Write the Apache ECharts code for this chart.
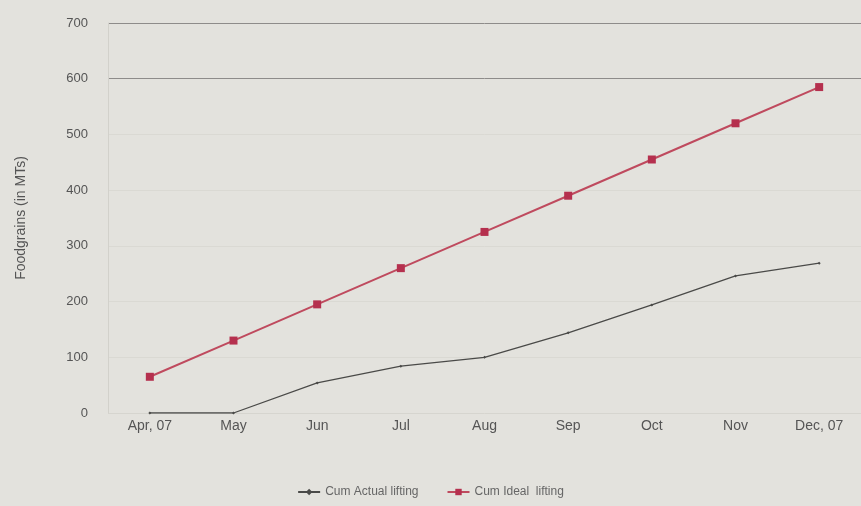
<!DOCTYPE html>
<html lang="en">
<head>
    <meta charset="UTF-8">
    <title>Foodgrains lifting</title>
    <script src="https://cdn.jsdelivr.net/npm/echarts@6/dist/echarts.min.js"></script>
    <style>
        html, body { margin: 0; padding: 0; background: #e3e2dd; }
        #chart-container { width: 861px; height: 506px; }
    </style>
</head>
<body>
    <div id="chart-container"></div>
    <script>
        var months = ['Apr, 07', 'May', 'Jun', 'Jul', 'Aug', 'Sep', 'Oct', 'Nov', 'Dec, 07'];
        var actualLifting = [0, 0, 54, 84, 100, 144, 194, 246, 269];
        var idealLifting = [65, 130, 195, 260, 325, 390, 455, 520, 585];

        var myChart = echarts.init(document.getElementById('chart-container'));
        var option = {
            backgroundColor: '#e3e2dd',
            textStyle: { fontFamily: 'Liberation Sans, Arial, sans-serif' },
            legend: {
                bottom: 3,
                left: 'center',
                itemWidth: 22,
                itemHeight: 8,
                itemGap: 28,
                textStyle: { color: '#666', fontSize: 12 },
                data: ['Cum Actual lifting', 'Cum Ideal  lifting']
            },
            grid: { left: 108, top: 23, width: 760, height: 390 },
            xAxis: {
                type: 'category',
                data: months,
                boundaryGap: true,
                axisLine: { show: false },
                axisTick: { show: false },
                axisLabel: { color: '#555', fontSize: 14, margin: 6 }
            },
            yAxis: {
                type: 'value',
                min: 0,
                max: 700,
                interval: 100,
                name: 'Foodgrains (in MTs)',
                nameLocation: 'middle',
                nameGap: 80,
                nameTextStyle: { color: '#555', fontSize: 14 },
                axisLine: { show: true, lineStyle: { color: '#d2d1cb' } },
                axisTick: { show: false },
                axisLabel: { color: '#555', fontSize: 13, margin: 20 },
                splitLine: {
                    lineStyle: {
                        color: ['#d6d5cf', '#dad9d3', '#dad9d3', '#dad9d3', '#dad9d3', '#dad9d3', '#8e8c8a', '#8e8c8a'],
                        width: 1
                    }
                }
            },
            series: [
                {
                    name: 'Cum Actual lifting',
                    type: 'line',
                    data: actualLifting,
                    symbol: 'diamond',
                    symbolSize: 3,
                    itemStyle: { color: '#4a4a48' },
                    lineStyle: { color: '#4a4a48', width: 1.3 }
                },
                {
                    name: 'Cum Ideal  lifting',
                    type: 'line',
                    data: idealLifting,
                    symbol: 'rect',
                    symbolSize: 8,
                    itemStyle: { color: '#b5304e' },
                    lineStyle: { color: '#bf4a5e', width: 2 }
                }
            ]
        };
        myChart.setOption(option);
    </script>
</body>
</html>
